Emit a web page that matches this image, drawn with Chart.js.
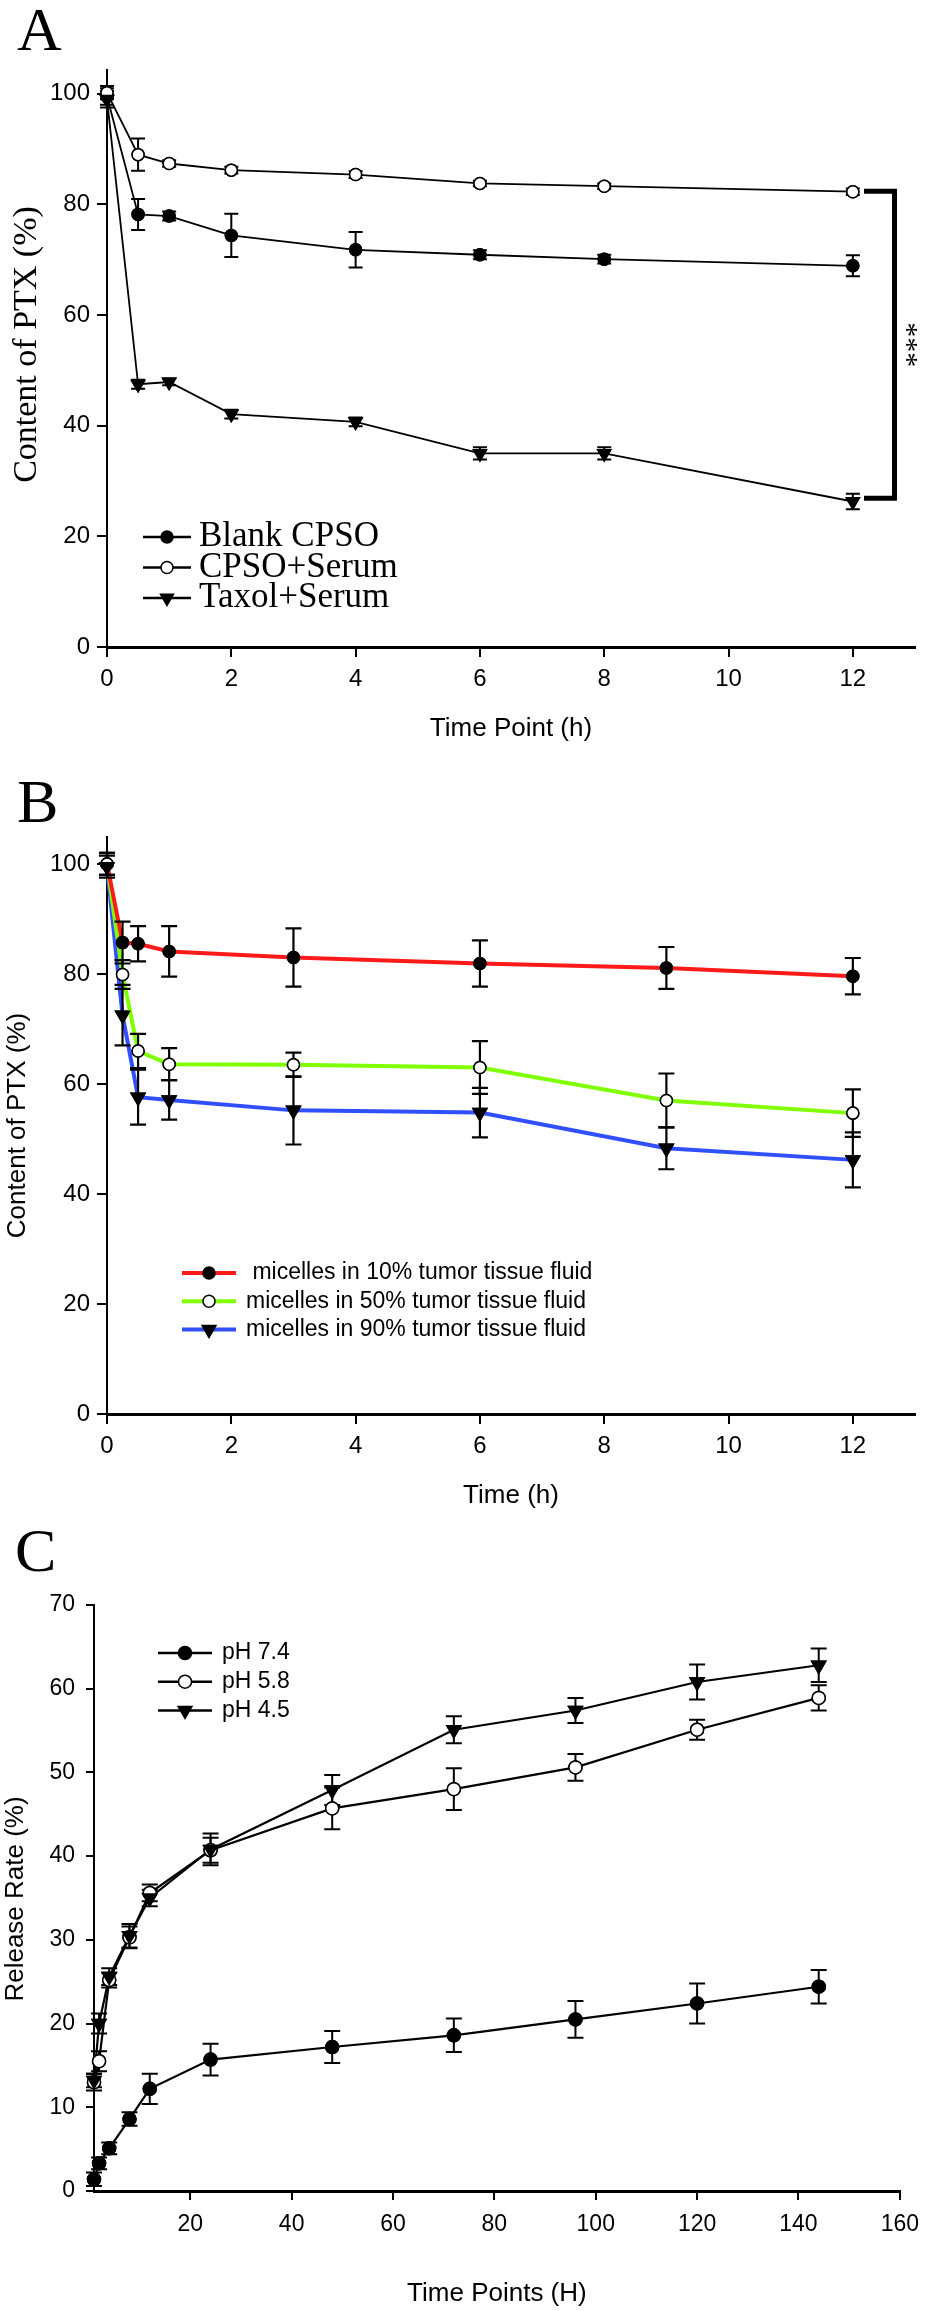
<!DOCTYPE html>
<html>
<head>
<meta charset="utf-8">
<script src="https://cdn.jsdelivr.net/npm/chart.js@4.4.1/dist/chart.umd.min.js"></script>
<style>
  body { margin: 0; background: #fff; }
  #page { position: relative; width: 930px; height: 2311px; overflow: hidden; }
  canvas { position: absolute; left: 0; }
  .panel { position: absolute; font-family: 'Liberation Serif', 'Times New Roman', serif; font-size: 62px; line-height: 62px; color: #000; }
</style>
</head>
<body>
<div id="page">
  <canvas id="chartA" width="930" height="760" style="top:0px"></canvas>
  <canvas id="chartB" width="930" height="760" style="top:760px"></canvas>
  <canvas id="chartC" width="930" height="791" style="top:1520px"></canvas>
  <div class="panel" style="left:17px; top:-2px">A</div>
  <div class="panel" style="left:17px; top:770px">B</div>
  <div class="panel" style="left:15px; top:1519px">C</div>
</div>
<script>
// panel A - PTX content in serum
const timeA = [0, 0.5, 1, 2, 4, 6, 8, 12];
const blankCPSO    = [99.5, 78.2, 77.9, 74.4, 71.8, 70.9, 70.1, 68.9];
const blankCPSOErr = [1.5, 2.8, 0.8, 3.9, 3.2, 0.8, 0.8, 1.9];
const cpsoSerum    = [100.2, 89.0, 87.4, 86.2, 85.4, 83.8, 83.3, 82.3];
const cpsoSerumErr = [1.2, 2.9, 0.6, 0.6, 0.6, 0.5, 0.5, 0.6];
const taxolSerum   = [99.0, 47.5, 47.9, 42.1, 40.7, 35.0, 35.0, 26.3];
const taxolSerumErr = [1.5, 0.8, 0.6, 0.8, 0.8, 1.1, 1.1, 1.4];

// panel B - PTX content in tumor tissue fluid
const timeB = [0, 0.25, 0.5, 1, 3, 6, 9, 12];
const fluid10    = [100, 85.7, 85.5, 84.1, 83.0, 81.9, 81.1, 79.6];
const fluid10Err = [2.0, 3.8, 3.2, 4.6, 5.3, 4.2, 3.8, 3.3];
const fluid50    = [100, 79.9, 66.0, 63.6, 63.5, 63.0, 57.0, 54.7];
const fluid50Err = [2.0, 2.6, 3.1, 2.9, 2.2, 4.8, 4.9, 4.3];
const fluid90    = [99.5, 72.5, 57.6, 57.1, 55.2, 54.8, 48.3, 46.2];
const fluid90Err = [2.0, 5.5, 5.0, 3.6, 6.2, 4.5, 3.8, 5.0];

// panel C - release at different pH
const timeC = [1, 2, 4, 8, 12, 24, 48, 72, 96, 120, 144];
const ph74    = [1.4, 3.3, 5.1, 8.6, 12.2, 15.7, 17.2, 18.6, 20.5, 22.4, 24.4];
const ph74Err = [0.8, 0.7, 0.7, 0.8, 1.8, 1.9, 1.9, 2.0, 2.2, 2.4, 2.0];
const ph58    = [13.0, 15.5, 25.2, 30.3, 35.6, 40.7, 45.7, 48.0, 50.6, 55.1, 58.9];
const ph58Err = [1.0, 1.2, 0.9, 1.3, 1.0, 1.5, 2.5, 2.5, 1.6, 1.2, 1.5];
const ph45    = [13.2, 20.0, 25.6, 30.5, 35.0, 40.8, 47.9, 55.1, 57.4, 60.8, 62.8];
const ph45Err = [0.8, 1.2, 1.0, 1.4, 1.0, 1.9, 1.8, 1.6, 1.5, 2.1, 2.0];

// tick labels
const ticksABx = [0, 2, 4, 6, 8, 10, 12];
const ticksABy = [0, 20, 40, 60, 80, 100];
const ticksCx = [20, 40, 60, 80, 100, 120, 140, 160];
const ticksCy = [0, 10, 20, 30, 40, 50, 60, 70];

const SANS = "'Liberation Sans', Arial, sans-serif";
const SERIF = "'Liberation Serif', 'Times New Roman', serif";

// error bars, then markers again so they sit on top
const errorBars = {
  id: 'errorBars',
  afterDatasetsDraw(chart, args, o) {
    const ctx = chart.ctx, ys = chart.scales.y;
    ctx.save();
    ctx.strokeStyle = '#000';
    ctx.lineWidth = o.lineWidth;
    chart.data.datasets.forEach((ds, i) => {
      chart.getDatasetMeta(i).data.forEach((pt, j) => {
        const v = ds.data[j].y, e = ds.errors[j];
        const top = ys.getPixelForValue(v + e), bot = ys.getPixelForValue(v - e);
        ctx.beginPath();
        ctx.moveTo(pt.x, top); ctx.lineTo(pt.x, bot);
        ctx.moveTo(pt.x - o.cap, top); ctx.lineTo(pt.x + o.cap, top);
        ctx.moveTo(pt.x - o.cap, bot); ctx.lineTo(pt.x + o.cap, bot);
        ctx.stroke();
      });
    });
    ctx.restore();
    chart.data.datasets.forEach((ds, i) => {
      chart.getDatasetMeta(i).data.forEach(pt => pt.draw(ctx, chart.chartArea));
    });
  }
};

// legend with a short line and marker
const lineLegend = {
  id: 'lineLegend',
  afterDraw(chart, args, o) {
    const ctx = chart.ctx;
    ctx.save();
    ctx.font = o.font;
    ctx.textBaseline = 'middle';
    chart.data.datasets.forEach((ds, i) => {
      const y = o.y + i * o.rowHeight;
      ctx.strokeStyle = ds.borderColor;
      ctx.lineWidth = o.lineWidth;
      ctx.beginPath();
      ctx.moveTo(o.x, y);
      ctx.lineTo(o.x + o.lineLength, y);
      ctx.stroke();
      ctx.fillStyle = ds.pointBackgroundColor;
      ctx.strokeStyle = ds.pointBorderColor;
      ctx.lineWidth = ds.pointBorderWidth;
      Chart.helpers.drawPoint(ctx, {
        pointStyle: ds.pointStyle, rotation: ds.pointRotation || 0,
        radius: ds.pointRadius, borderWidth: ds.pointBorderWidth
      }, o.x + o.lineLength / 2, y);
      ctx.fillStyle = '#000';
      ctx.fillText(ds.label, o.x + o.lineLength + o.gap, y);
    });
    ctx.restore();
  }
};

// rotated y axis title
const sideTitle = {
  id: 'sideTitle',
  afterDraw(chart, args, o) {
    const a = chart.chartArea, ctx = chart.ctx;
    ctx.save();
    ctx.translate(o.x, (a.top + a.bottom) / 2 + o.dy);
    ctx.rotate(-Math.PI / 2);
    ctx.font = o.font;
    ctx.fillStyle = '#000';
    ctx.textAlign = 'center';
    ctx.textBaseline = 'middle';
    ctx.fillText(o.text, 0, 0);
    ctx.restore();
  }
};

// significance bracket for panel A
const sigBracket = {
  id: 'sigBracket',
  afterDraw(chart, args, o) {
    if (!o.text) return;
    const ctx = chart.ctx, xs = chart.scales.x, ys = chart.scales.y;
    const bx = xs.getPixelForValue(o.x), sx = xs.getPixelForValue(o.stubFrom);
    const top = ys.getPixelForValue(o.top), bot = ys.getPixelForValue(o.bottom);
    ctx.save();
    ctx.strokeStyle = '#000';
    ctx.lineWidth = 5;
    ctx.beginPath();
    ctx.moveTo(sx, top); ctx.lineTo(bx, top); ctx.lineTo(bx, bot); ctx.lineTo(sx, bot);
    ctx.stroke();
    ctx.translate(xs.getPixelForValue(o.textX), (top + bot) / 2);
    ctx.rotate(Math.PI / 2);
    ctx.font = o.font;
    ctx.fillStyle = '#000';
    ctx.textAlign = 'center';
    ctx.textBaseline = 'middle';
    ctx.fillText(o.text, 0, 0);
    ctx.restore();
  }
};

function series(label, xs, ys, errs, style) {
  return Object.assign({
    label: label,
    data: xs.map((x, i) => ({ x: x, y: ys[i] })),
    errors: errs,
    tension: 0,
    clip: false,
    pointBorderColor: '#000',
    pointBorderWidth: 1.5
  }, style);
}

function axes(o) {
  return {
    x: {
      type: 'linear', min: o.xMin, max: o.xMax,
      afterBuildTicks: ax => { ax.ticks = o.xTicks.map(v => ({ value: v })); },
      afterFit: ax => { ax.height = o.xHeight; },
      grid: { drawOnChartArea: false, color: '#000', lineWidth: 2, tickLength: o.xTickLen },
      border: { color: '#000', width: 3 },
      ticks: { font: { family: SANS, size: o.tickSize }, color: '#000', padding: o.xPad, maxRotation: 0, autoSkip: false },
      title: { display: true, text: o.xTitle, color: '#000', font: { family: SANS, size: 26 }, padding: { top: 0, bottom: o.xTitlePad } }
    },
    y: {
      type: 'linear', min: o.yMin, max: o.yMax,
      afterBuildTicks: ax => { ax.ticks = o.yTicks.map(v => ({ value: v })); },
      afterFit: ax => { ax.width = o.yWidth; },
      grid: { drawOnChartArea: false, color: '#000', lineWidth: 2, tickLength: o.yTickLen },
      border: { color: '#000', width: 2 },
      ticks: { font: { family: SANS, size: o.tickSize }, color: '#000', padding: o.yPad, autoSkip: false }
    }
  };
}

function baseOptions(extra) {
  return Object.assign({
    responsive: false,
    animation: false,
    devicePixelRatio: 1,
    events: []
  }, extra);
}

const filledCircle = { pointStyle: 'circle', pointBackgroundColor: '#000' };
const openCircle = { pointStyle: 'circle', pointBackgroundColor: '#fff' };
const downTriangle = { pointStyle: 'triangle', pointRotation: 180, pointBackgroundColor: '#000' };

// chart A
new Chart(document.getElementById('chartA'), {
  type: 'line',
  data: {
    datasets: [
      series('Blank CPSO', timeA, blankCPSO, blankCPSOErr, Object.assign({ borderColor: '#000', borderWidth: 1.8, pointRadius: 6 }, filledCircle)),
      series('CPSO+Serum', timeA, cpsoSerum, cpsoSerumErr, Object.assign({ borderColor: '#000', borderWidth: 1.8, pointRadius: 6 }, openCircle)),
      series('Taxol+Serum', timeA, taxolSerum, taxolSerumErr, Object.assign({ borderColor: '#000', borderWidth: 1.8, pointRadius: 7.5 }, downTriangle))
    ]
  },
  options: baseOptions({
    layout: { padding: { top: 70, right: 15, left: 0, bottom: 0 } },
    scales: axes({
      xMin: 0, xMax: 13, xTicks: ticksABx, xHeight: 113, xTickLen: 10, xPad: 8, xTitle: 'Time Point (h)', xTitlePad: 16,
      yMin: 0, yMax: 104.3, yTicks: ticksABy, yWidth: 107, yTickLen: 10, yPad: 7, tickSize: 24
    }),
    plugins: {
      legend: { display: false },
      tooltip: { enabled: false },
      errorBars: { cap: 7, lineWidth: 2 },
      lineLegend: { x: 143, y: 537, rowHeight: 30.5, lineLength: 48, gap: 8, lineWidth: 2.5, font: '35px ' + SERIF },
      sideTitle: { text: 'Content of PTX (%)', font: '34px ' + SERIF, x: 27, dy: -14 },
      sigBracket: { text: '***', x: 12.67, stubFrom: 12.18, top: 82.4, bottom: 26.9, textX: 12.85, font: '30px ' + SERIF }
    }
  }),
  plugins: [errorBars, lineLegend, sideTitle, sigBracket]
});

// chart B
new Chart(document.getElementById('chartB'), {
  type: 'line',
  data: {
    datasets: [
      series(' micelles in 10% tumor tissue fluid', timeB, fluid10, fluid10Err, Object.assign({ borderColor: '#ff1a1a', borderWidth: 4, pointRadius: 6 }, filledCircle)),
      series('micelles in 50% tumor tissue fluid', timeB, fluid50, fluid50Err, Object.assign({ borderColor: '#80ff00', borderWidth: 4, pointRadius: 6 }, openCircle)),
      series('micelles in 90% tumor tissue fluid', timeB, fluid90, fluid90Err, Object.assign({ borderColor: '#3050ff', borderWidth: 4, pointRadius: 8 }, downTriangle))
    ]
  },
  options: baseOptions({
    layout: { padding: { top: 77, right: 15, left: 0, bottom: 0 } },
    scales: axes({
      xMin: 0, xMax: 13, xTicks: ticksABx, xHeight: 106, xTickLen: 10, xPad: 8, xTitle: 'Time (h)', xTitlePad: 9,
      yMin: 0, yMax: 104.9, yTicks: ticksABy, yWidth: 107, yTickLen: 10, yPad: 7, tickSize: 24
    }),
    plugins: {
      legend: { display: false },
      tooltip: { enabled: false },
      errorBars: { cap: 8, lineWidth: 2.2 },
      lineLegend: { x: 182, y: 513, rowHeight: 28.3, lineLength: 54, gap: 10, lineWidth: 4, font: '23px ' + SANS },
      sideTitle: { text: 'Content of PTX (%)', font: '26px ' + SANS, x: 18, dy: 0 }
    }
  }),
  plugins: [errorBars, lineLegend, sideTitle]
});

// chart C
new Chart(document.getElementById('chartC'), {
  type: 'line',
  data: {
    datasets: [
      series('pH 7.4', timeC, ph74, ph74Err, Object.assign({ borderColor: '#000', borderWidth: 2.2, pointRadius: 6.5 }, filledCircle)),
      series('pH 5.8', timeC, ph58, ph58Err, Object.assign({ borderColor: '#000', borderWidth: 2.2, pointRadius: 6.5 }, openCircle)),
      series('pH 4.5', timeC, ph45, ph45Err, Object.assign({ borderColor: '#000', borderWidth: 2.2, pointRadius: 8 }, downTriangle))
    ]
  },
  options: baseOptions({
    layout: { padding: { top: 85, right: 18, left: 0, bottom: 0 } },
    scales: axes({
      xMin: 1, xMax: 160, xTicks: ticksCx, xHeight: 120, xTickLen: 9, xPad: 11, xTitle: 'Time Points (H)', xTitlePad: 2,
      yMin: 0, yMax: 70, yTicks: ticksCy, yWidth: 94, yTickLen: 8, yPad: 11, tickSize: 23
    }),
    plugins: {
      legend: { display: false },
      tooltip: { enabled: false },
      errorBars: { cap: 8, lineWidth: 2 },
      lineLegend: { x: 158, y: 133, rowHeight: 28.7, lineLength: 54, gap: 10, lineWidth: 2.5, font: '23px ' + SANS },
      sideTitle: { text: 'Release Rate (%)', font: '26px ' + SANS, x: 16, dy: 1 }
    }
  }),
  plugins: [errorBars, lineLegend, sideTitle]
});
</script>
</body>
</html>
